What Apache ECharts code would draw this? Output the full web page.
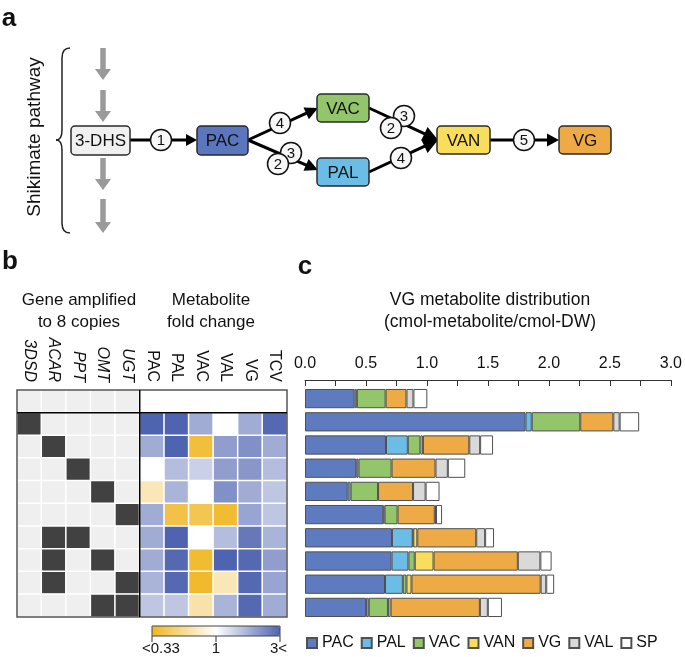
<!DOCTYPE html>
<html><head><meta charset="utf-8">
<script src="https://cdn.jsdelivr.net/npm/echarts@6/dist/echarts.min.js"></script>
<style>html,body{margin:0;padding:0;background:#fff}#c{width:685px;height:657px}</style>
</head><body><div id="c"></div>
<script>
// ---------- DATA ----------
const strains = ['Control','3DSD','ACAR','PPT','OMT','UGT','ACAR+PPT','ACAR+OMT','ACAR+UGT','OMT+UGT'];
const genes = ['3DSD','ACAR','PPT','OMT','UGT'];
const metabolites = ['PAC','PAL','VAC','VAL','VG','TCV'];
const geneMatrix = [
  [0,0,0,0,0],
  [1,0,0,0,0],
  [0,1,0,0,0],
  [0,0,1,0,0],
  [0,0,0,1,0],
  [0,0,0,0,1],
  [0,1,1,0,0],
  [0,1,0,1,0],
  [0,1,0,0,1],
  [0,0,0,1,1]
];
const foldChange = [
  [1.0,1.0,1.0,1.0,1.0,1.0],
  [3.2,3.0,1.8,1.0,1.8,2.9],
  [1.8,3.0,0.38,2.0,2.2,1.8],
  [1.0,1.6,1.4,2.0,2.1,1.6],
  [0.7,1.7,1.0,2.2,1.8,1.5],
  [1.8,0.40,0.42,0.36,1.9,1.5],
  [1.8,3.2,1.0,1.6,2.6,1.7],
  [1.8,2.9,0.36,3.1,2.9,2.0],
  [1.7,2.9,0.35,0.7,2.9,1.9],
  [1.5,1.5,0.65,1.7,2.9,1.8]
];
const foldTicks = ['<0.33','1','3<'];
const distNames = ['PAC','PAL','VAC','VAN','VG','VAL','SP'];
const PAC = [0.407,1.808,0.664,0.420,0.350,0.642,0.713,0.710,0.656,0.501];
const PAL = [0.018,0.051,0.179,0.019,0.024,0.010,0.170,0.138,0.146,0.022];
const VAC = [0.236,0.398,0.103,0.271,0.225,0.107,0.005,0.052,0.030,0.157];
const VAN = [0,0,0.021,0,0,0,0.033,0.154,0.041,0.022];
const VG  = [0.171,0.271,0.380,0.360,0.287,0.305,0.483,0.691,1.059,0.732];
const VAL = [0.057,0.052,0.089,0.101,0.103,0.010,0.073,0.185,0.046,0.065];
const SP  = [0.114,0.160,0.106,0.143,0.114,0.050,0.073,0.092,0.065,0.116];

// ---------- STYLE ----------
const FONT = 'Liberation Sans, Arial, sans-serif';
const distColors = ['#5f7bc0','#6cbde6','#93c56b','#f9dd5c','#eeab45','#d9d9d9','#ffffff'];
const distData = [PAC,PAL,VAC,VAN,VG,VAL,SP];

const hmLeft = 17, hmTop = 390, hmW = 270, hmH = 227;
const cellW = hmW / 11, cellH = hmH / 10;

const geneData = [];
geneMatrix.forEach((row, r) => row.forEach((v, c) => geneData.push([c, r, v])));
const foldData = [];
foldChange.forEach((row, r) => row.forEach((v, c) => foldData.push([5 + c, r, Math.log(v)])));

// ---------- PANEL A graphics ----------
const G = [];
function txt(x, y, s, size, weight) {
  G.push({type:'text', x, y, style:{text:s, font:(weight||'normal')+' '+size+'px '+FONT, fill:'#111', textAlign:'center', textVerticalAlign:'middle'}});
}
function arrow(x1, y1, x2, y2, w, hl, hw, color) {
  const dx = x2 - x1, dy = y2 - y1, L = Math.hypot(dx, dy), ux = dx / L, uy = dy / L;
  const bx = x2 - ux * hl, by = y2 - uy * hl, px = -uy, py = ux;
  G.push({type:'line', shape:{x1, y1, x2:bx + ux, y2:by + uy}, style:{stroke:color, lineWidth:w}});
  G.push({type:'polygon', shape:{points:[[x2, y2],[bx + px*hw/2, by + py*hw/2],[bx - px*hw/2, by - py*hw/2]]}, style:{fill:color}});
}
function box(x, y, w, h, fill, label) {
  G.push({type:'rect', shape:{x, y, width:w, height:h, r:4}, style:{fill, stroke:'#2a2a2a', lineWidth:1.5}, z:5});
  G.push({type:'text', x:x + w/2, y:y + h/2 + 1, z:6, style:{text:label, font:'17px '+FONT, fill:'#111', textAlign:'center', textVerticalAlign:'middle'}});
}
function num(x, y, n) {
  G.push({type:'circle', shape:{cx:x, cy:y, r:10.5}, style:{fill:'#f7f7f7', stroke:'#111', lineWidth:1.5}, z:10});
  G.push({type:'text', x, y:y+1, z:11, style:{text:String(n), font:'15px '+FONT, fill:'#111', textAlign:'center', textVerticalAlign:'middle'}});
}
function seg(x1,y1,x2,y2){ G.push({type:'line', shape:{x1,y1,x2,y2}, style:{stroke:'#222', lineWidth:1.5}}); }
function qc(x1,y1,cx,cy,x2,y2){ G.push({type:'bezierCurve', shape:{x1,y1,cpx1:cx,cpy1:cy,x2,y2}, style:{stroke:'#222', lineWidth:1.5, fill:null}}); }

txt(9, 19, 'a', 26, 'bold');
txt(10, 262, 'b', 26, 'bold');
txt(305, 267, 'c', 26, 'bold');
// brace
qc(70,48, 62,48, 62,58); seg(62,58,62,130); qc(62,130, 62,140, 56,140);
qc(56,140, 62,140, 62,150); seg(62,150,62,223); qc(62,223, 62,233, 70,233);
G.push({type:'text', x:35, y:137, rotation:Math.PI/2, style:{text:'Shikimate pathway', font:'19px '+FONT, fill:'#111', textAlign:'center', textVerticalAlign:'middle'}});
[[48,80],[90,122],[158,190],[199,233]].forEach(([a,b]) => arrow(103, a, 103, b, 5.5, 11, 16, '#9a9a9a'));
arrow(130, 140, 197, 140, 3, 11, 12, '#000');
arrow(248, 140, 318, 108, 3, 13, 13, '#000');
arrow(248, 140, 318, 170, 3, 13, 13, '#000');
arrow(369, 108, 438, 140, 3, 15, 15, '#000');
arrow(369, 172, 438, 140, 3, 15, 15, '#000');
arrow(490, 140, 559, 140, 3, 12, 13, '#000');
box(71, 126, 59, 29, '#f0f0f0', '3-DHS');
box(197, 126, 51, 29, '#5b76bf', 'PAC');
box(317, 94, 52, 28, '#93c56b', 'VAC');
box(317, 158, 52, 28, '#6cbde6', 'PAL');
box(437, 126, 53, 28, '#f9dd5c', 'VAN');
box(559, 126, 52, 28, '#eeab45', 'VG');
num(161, 140, 1);
num(280, 123, 4);
num(291, 153, 3);
num(278, 164, 2);
num(404, 116, 3);
num(391, 128, 2);
num(401, 158, 4);
num(524, 140, 5);

G.push({type:'text', x:79, y:311, style:{text:'Gene amplified\nto 8 copies', font:'17px '+FONT, fill:'#111', textAlign:'center', textVerticalAlign:'middle', lineHeight:22}});
G.push({type:'text', x:211, y:311, style:{text:'Metabolite\nfold change', font:'17px '+FONT, fill:'#111', textAlign:'center', textVerticalAlign:'middle', lineHeight:22}});
G.push({type:'line', shape:{x1:hmLeft + 5*cellW, y1:hmTop, x2:hmLeft + 5*cellW, y2:hmTop + hmH}, style:{stroke:'#000', lineWidth:1.5}, z:20});
G.push({type:'line', shape:{x1:hmLeft, y1:hmTop + cellH, x2:hmLeft + hmW, y2:hmTop + cellH}, style:{stroke:'#000', lineWidth:1.5}, z:20});
const cbL = 152, cbT = 626, cbW = 128, cbH = 10;
G.push({type:'rect', shape:{x:cbL, y:cbT, width:cbW, height:cbH}, style:{fill:null, stroke:'#444', lineWidth:1}, z:30});
foldTicks.forEach((t, i) => {
  const x = cbL + i * cbW / 2;
  G.push({type:'line', shape:{x1:x, y1:cbT + cbH, x2:x, y2:cbT + cbH + 6}, style:{stroke:'#333', lineWidth:1}, z:30});
  G.push({type:'text', x: i===0 ? x-10 : (i===2 ? x+7 : x), y:649, z:30, style:{text:t, font:'15px '+FONT, fill:'#111', textAlign: i===0 ? 'left' : (i===2 ? 'right' : 'center'), textVerticalAlign:'middle'}});
});
G.push({type:'text', x:490, y:311, style:{text:'VG metabolite distribution\n(cmol-metabolite/cmol-DW)', font:'17.5px '+FONT, fill:'#111', textAlign:'center', textVerticalAlign:'middle', lineHeight:22}});

// ---------- CHART ----------
const chart = echarts.init(document.getElementById('c'), null, {renderer:'canvas'});
chart.setOption({
  animation:false,
  textStyle:{fontFamily:FONT},
  grid:[
    {left:hmLeft, top:hmTop, width:hmW, height:hmH, show:true, borderColor:'#555', borderWidth:1.5, backgroundColor:'transparent', z:5},
    {left:305, top:387, width:369, height:232}
  ],
  xAxis:[
    {gridIndex:0, type:'category', position:'top', data:genes.concat(metabolites),
     axisLine:{show:false}, axisTick:{show:false}, splitLine:{show:false},
     axisLabel:{rotate:90, margin:8, fontSize:16, color:'#111',
       formatter:(v, i) => i < 5 ? '{i|' + v + '}' : v,
       rich:{i:{fontStyle:'italic', fontSize:16, color:'#111'}}}},
    {gridIndex:1, type:'value', position:'top', min:0, max:3, interval:0.25, offset:7,
     axisLine:{show:true, lineStyle:{color:'#333', width:1}},
     axisTick:{show:true, inside:true, length:6, lineStyle:{color:'#333'}},
     splitLine:{show:false},
     axisLabel:{fontSize:16, color:'#111', margin:8, formatter:v => (Math.round(v*4) % 2 === 0) ? v.toFixed(1) : ''}}
  ],
  yAxis:[
    {gridIndex:0, type:'category', data:strains, inverse:true, show:false},
    {gridIndex:1, type:'category', data:strains, inverse:true, show:false}
  ],
  visualMap:[
    {type:'piecewise', seriesIndex:0, dimension:2, show:false,
     pieces:[{min:-0.5, max:0.5, color:'#efefef'}, {min:0.5, max:1.5, color:'#414141'}]},
    {type:'continuous', seriesIndex:1, dimension:2, min:-Math.log(3), max:Math.log(3),
     orient:'horizontal', left:cbL, top:cbT, itemWidth:cbH, itemHeight:cbW, padding:0,
     calculable:false, hoverLink:false,
     inRange:{color:['#f0b623','#ffffff','#4f64b0']}}
  ],
  legend:{
    left:306, top:635, width:380, padding:0, itemWidth:10, itemHeight:10, itemGap:7, icon:'rect',
    textStyle:{fontSize:16, color:'#111'}, data:distNames, selectedMode:false
  },
  series:[
    {type:'heatmap', xAxisIndex:0, yAxisIndex:0, data:geneData,
     itemStyle:{borderColor:'#fff', borderWidth:1.5}},
    {type:'heatmap', xAxisIndex:0, yAxisIndex:0, data:foldData,
     itemStyle:{borderColor:'#fff', borderWidth:1.5}}
  ].concat(distNames.map((n, i) => ({
    type:'bar', name:n, xAxisIndex:1, yAxisIndex:1, stack:'dist',
    barCategoryGap:'17%',
    data:distData[i].map(v => v === 0 ? '-' : v),
    itemStyle:{color:distColors[i], borderColor:'#505050', borderWidth:1}
  }))),
  graphic:G
});
</script></body></html>
